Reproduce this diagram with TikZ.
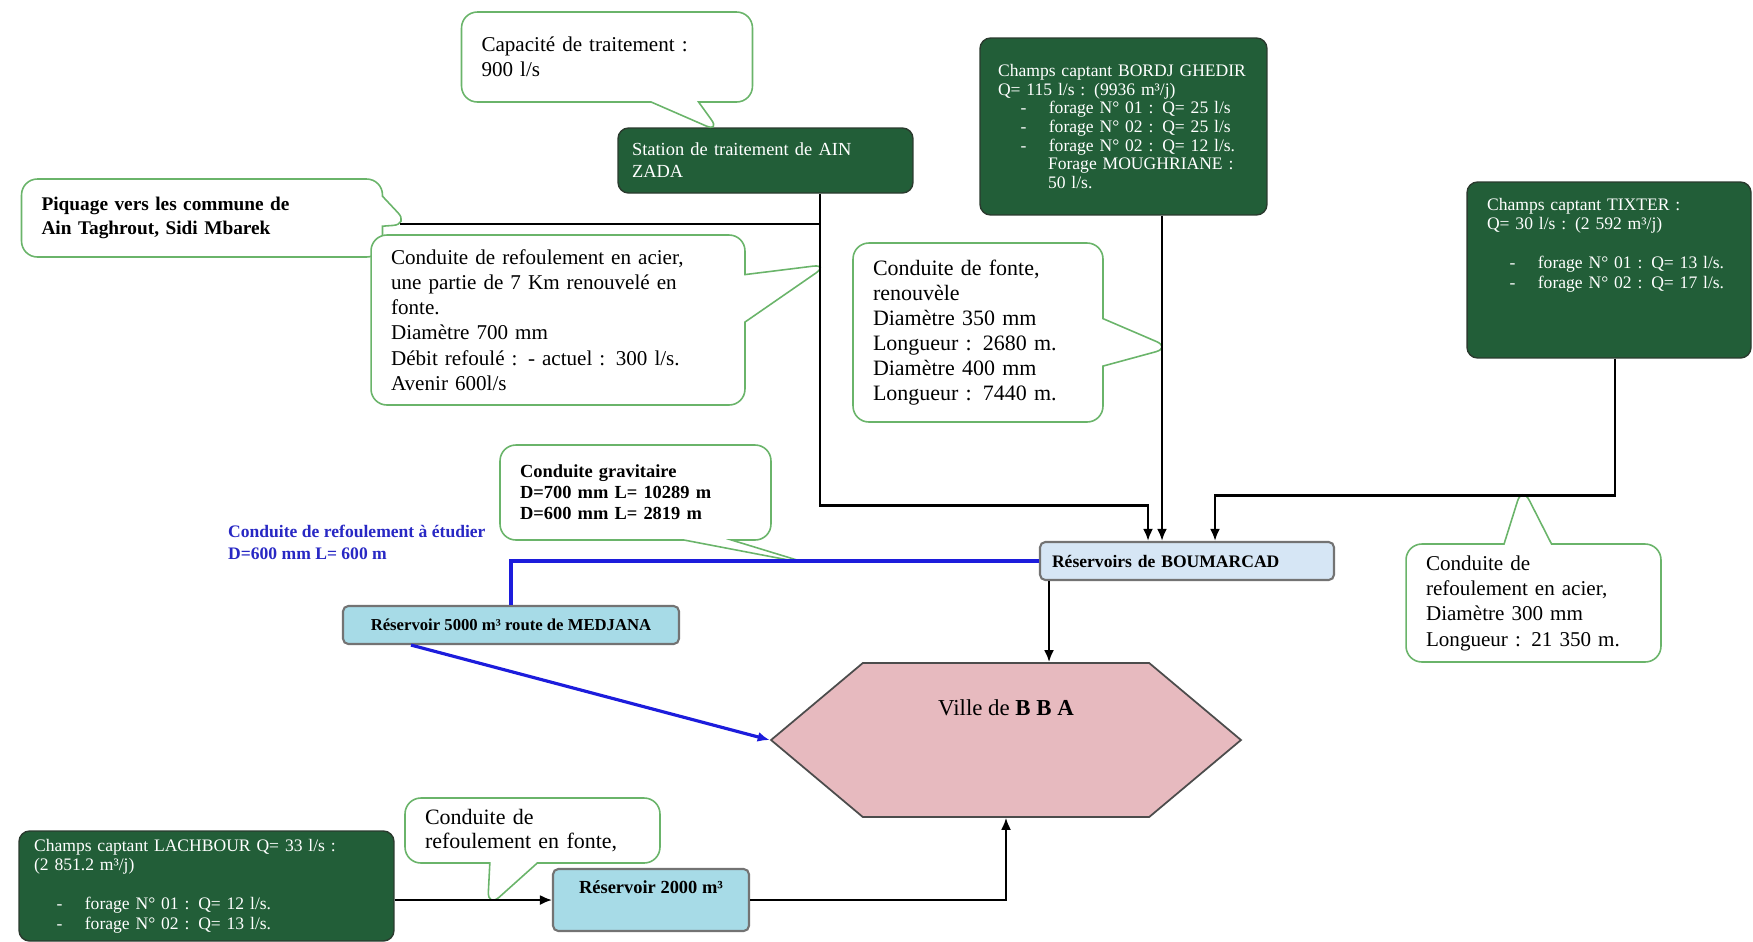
\documentclass[tikz,border=0pt]{standalone}
\usepackage{fontspec}
\setmainfont{Liberation Serif}
\usetikzlibrary{arrows.meta,shapes.callouts,shapes.symbols}
\definecolor{marble}{HTML}{225E38}
\definecolor{marbleedge}{HTML}{2A3A2E}
\definecolor{callgreen}{HTML}{6AB46A}
\definecolor{resblue}{HTML}{D6E6F5}
\definecolor{rescyan}{HTML}{A7DBE7}
\definecolor{cityrose}{HTML}{E7BABF}
\definecolor{pipeblue}{HTML}{1C1CDC}
\definecolor{textblue}{HTML}{2828C4}
\newcommand{\puce}{\hspace*{0.45cm}-\hspace*{0.45cm}}

\begin{document}
\begin{tikzpicture}[x=0.02cm,y=-0.02cm,>=Latex,
  bulle/.style={rectangle callout,rounded corners=9pt,draw=callgreen,fill=white,line width=0.9pt,
    align=left,inner xsep=0.4cm,inner ysep=3pt,callout pointer width=0.95cm,
    callout pointer shorten=-5pt,font=\fontsize{12}{14.4}\selectfont},
  champ/.style={rounded corners=6pt,draw=marbleedge,fill=marble,text=white,align=left,
    inner xsep=0.35cm,line width=0.8pt,font=\fontsize{10}{11.2}\selectfont},
  res/.style={rounded corners=3pt,draw=black!55,line width=1.2pt,font=\fontsize{10}{12}\selectfont\bfseries},
  pipe/.style={line width=1.5pt},
  a/.style={-{Latex[length=2.4mm,width=2mm]}}]
\useasboundingbox (0,0) rectangle (1753,941);
% points on the pipes
\coordinate (pq) at (400,224);
\coordinate (acitip) at (820,266);
\coordinate (fontip) at (1162,347);
\coordinate (gravtip) at (803,561);
\coordinate (tixtip) at (1523,495);
\coordinate (fbtip) at (492,900);
% sources
\node[champ,text width=5.34cm,minimum height=1.3cm,inner xsep=0.28cm,
  font=\fontsize{10.5}{12.5}\selectfont] (ainzada) at (765.5,160.5)
  {Station de traitement de AIN\\ZADA};
\node[champ,text width=5.02cm,minimum height=3.54cm,inner xsep=0.36cm,
  font=\fontsize{10}{10.6}\selectfont] (bordj) at (1123.5,126.5)
  {Champs captant BORDJ GHEDIR\\Q= 115  l/s : (9936 m³/j)\\\puce forage N° 01 : Q= 25 l/s\\
   \puce forage N° 02 : Q= 25 l/s\\\puce forage N° 02 : Q= 12 l/s.\\
   \hspace*{1cm}Forage MOUGHRIANE :\\\hspace*{1cm}50 l/s.};
\node[champ,text width=4.88cm,minimum height=3.52cm,inner xsep=0.4cm] (tixter) at (1609,270)
  {Champs captant TIXTER :\\ Q= 30  l/s : (2 592 m³/j)\\[11pt]\puce forage N° 01 : Q= 13 l/s.\\
   \puce forage N° 02 : Q= 17 l/s.\par\vspace{1cm}};
\node[champ,text width=6.9cm,minimum height=2.2cm,inner xsep=0.3cm] (lach) at (206.5,886)
  {Champs captant LACHBOUR Q= 33 l/s :\\(2 851.2 m³/j)\\[11pt]\puce forage N° 01 : Q= 12 l/s.\\
   \puce forage N° 02 : Q= 13 l/s.};
% reservoirs and town
\node[res,fill=resblue,minimum width=5.88cm,minimum height=0.76cm,text width=5.4cm,align=left,
  inner xsep=0.24cm] (boum) at (1187,561) {Réservoirs de BOUMARCAD};
\node[res,fill=rescyan,minimum width=6.72cm,minimum height=0.76cm,
  font=\fontsize{9.5}{11}\selectfont\bfseries] (medjana) at (511,625)
  {Réservoir 5000 m³  route de MEDJANA};
\node[res,fill=rescyan,minimum width=3.92cm,minimum height=1.24cm,text depth=0.5cm,
  font=\fontsize{10.5}{12}\selectfont\bfseries] (res2000) at (651,900) {Réservoir  2000 m³};
\node[signal,signal to=east and west,signal pointer angle=80,draw=black!70,fill=cityrose,
  line width=1pt,minimum width=9.4cm,minimum height=3.08cm,text depth=1.3cm,
  font=\fontsize{13}{15}\selectfont] (ville) at (1006,740) {Ville de \textbf{B B A}};
\node[font=\fontsize{10}{12.5}\selectfont\bfseries,text=textblue,align=left,anchor=west] (etude)
  at (222,542) {Conduite de refoulement à étudier\\D=600  mm  L= 600 m};
% callouts
\node[bulle,text width=5.02cm,minimum height=1.8cm,
  callout absolute pointer={([xshift=-1.05cm]ainzada.north)}] (capacite) at (607,57)
  {Capacité de traitement  :\\900 l/s\par\vspace{0.5cm}};
\node[bulle,text width=6.42cm,minimum height=1.56cm,font=\fontsize{11}{14}\selectfont\bfseries,
  callout pointer width=0.6cm,callout absolute pointer=(pq)] (piquage) at (202,218)
  {Piquage vers les commune de\\Ain Taghrout, Sidi Mbarek\par\vspace{0.35cm}};
\node[bulle,text width=6.68cm,minimum height=3.4cm,callout absolute pointer=(acitip)] (acier)
  at (558,320) {Conduite de refoulement en acier,\\une partie de 7 Km renouvelé en\\fonte.\\
  Diamètre  700 mm\\Débit refoulé : - actuel : 300 l/s.\\Avenir 600l/s};
\node[bulle,text width=4.2cm,minimum height=3.58cm,font=\fontsize{12.5}{14.2}\selectfont,
  callout absolute pointer=(fontip)] (fonte) at (978,332.5)
  {Conduite de fonte,\\renouvèle\\Diamètre 350 mm\\Longueur : 2680  m.\\Diamètre 400 mm\\
   Longueur : 7440  m.};
\node[bulle,text width=4.62cm,minimum height=1.9cm,font=\fontsize{10.5}{12}\selectfont\bfseries,
  callout absolute pointer=(gravtip)] (gravit) at (635.5,492.5)
  {Conduite  gravitaire\\D=700  mm L= 10289  m\\D=600  mm L= 2819  m\par\vspace{0.25cm}};
\node[bulle,text width=4.3cm,minimum height=2.36cm,callout absolute pointer=(tixtip)] (tixacier)
  at (1533.5,603) {Conduite de\\refoulement en  acier,\\Diamètre 300 mm\\Longueur : 21 350 m.};
\node[bulle,text width=4.3cm,minimum height=1.3cm,font=\fontsize{12.5}{14}\selectfont,
  callout absolute pointer=(fbtip)] (fontebas) at (532.5,830.5)
  {Conduite de\\refoulement en fonte,};
% pipes
\draw[pipe,a] ([xshift=1.09cm]ainzada.south) -- ++(0,312) -| ([xshift=-0.78cm]boum.north);
\draw[pipe,line width=1pt] (pq) -- (pq -| acitip);
\draw[pipe,a] ([xshift=0.77cm]bordj.south) -- ([xshift=0.77cm]bordj.south |- boum.north);
\draw[pipe,a] ([xshift=0.12cm]tixter.south) -- ++(0,137) -| ([xshift=0.56cm]boum.north);
\draw[pipe,a] ([xshift=-2.76cm]boum.south) -- ([xshift=-2.76cm]boum.south |- ville.north);
\draw[pipe,pipeblue,line width=1.8pt] (boum.west) -| (medjana.north);
\draw[pipe,pipeblue,line width=1.8pt,a] ([xshift=-2cm]medjana.south) -- (ville.west);
\draw[pipe,line width=1.1pt,a] (lach.east |- res2000.west) -- (res2000.west);
\draw[pipe,line width=1.1pt,a] (res2000.east) -| (ville.south);
\end{tikzpicture}
\end{document}
